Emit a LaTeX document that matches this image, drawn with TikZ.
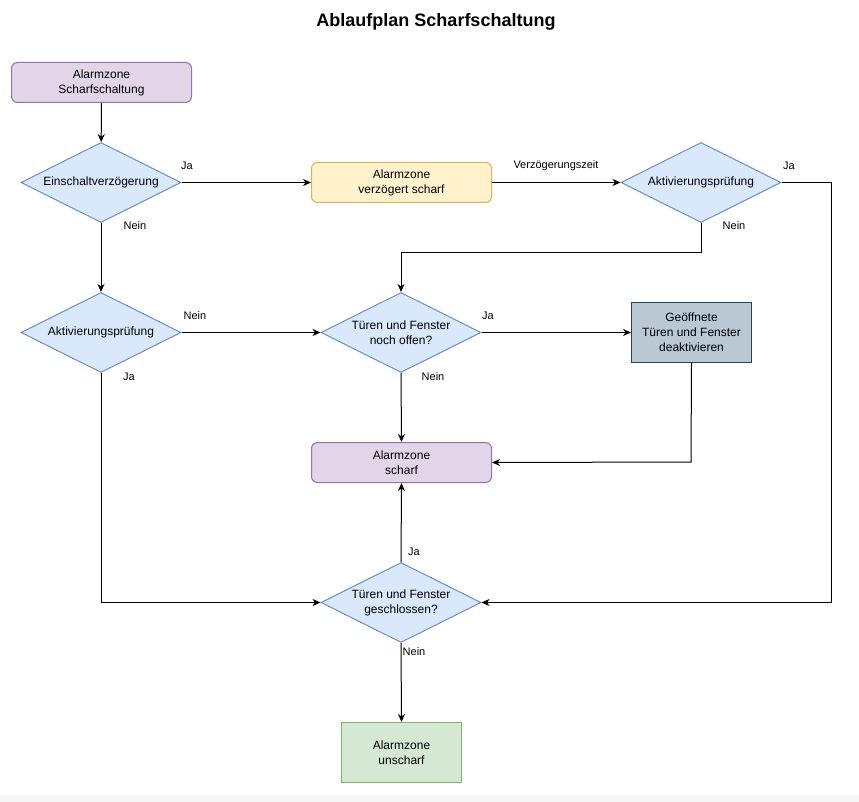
\documentclass[tikz,border=0pt]{standalone}
\usepackage{fontspec}
\setmainfont{Liberation Sans}
\usetikzlibrary{shapes.geometric,arrows.meta}
\definecolor{purpfill}{HTML}{E1D5E7}
\definecolor{purpline}{HTML}{9673A6}
\definecolor{bluefill}{HTML}{DAE8FC}
\definecolor{blueline}{HTML}{6C8EBF}
\definecolor{yelfill}{HTML}{FFF2CC}
\definecolor{yelline}{HTML}{D6B656}
\definecolor{grayfill}{HTML}{BAC8D3}
\definecolor{grayline}{HTML}{23445D}
\definecolor{greenfill}{HTML}{D5E8D4}
\definecolor{greenline}{HTML}{82B366}
\definecolor{stripgray}{HTML}{F6F6F6}
\begin{document}
\begin{tikzpicture}[x=1pt,y=-1pt,
  txt/.style={font=\fontsize{12}{15}\selectfont, align=center, text=black},
  boxbase/.style={txt, draw, line width=1pt, inner sep=0pt, anchor=north west},
  purpbox/.style={boxbase, fill=purpfill, draw=purpline, rounded corners=6pt, minimum width=180pt, minimum height=40pt},
  yelbox/.style={boxbase, fill=yelfill, draw=yelline, rounded corners=6pt, minimum width=180pt, minimum height=40pt},
  dec/.style={txt, diamond, aspect=2, fill=bluefill, draw=blueline, line width=1pt, inner sep=0pt, minimum width=160pt, minimum height=80pt},
  graybox/.style={boxbase, fill=grayfill, draw=grayline, minimum width=120pt, minimum height=60pt},
  greenbox/.style={boxbase, fill=greenfill, draw=greenline, minimum width=120pt, minimum height=60pt},
  arr/.style={draw=black, line width=1pt, -{Stealth[length=8pt,width=7pt,inset=2.5pt]}},
  lbl/.style={font=\fontsize{11}{13}\selectfont, text=black, inner sep=0pt}
]
\useasboundingbox (0,0) rectangle (859,802);
\fill[white] (0,0) rectangle (859,802);
\fill[stripgray] (0,795) rectangle (859,802);

\node[font=\bfseries\fontsize{18}{22}\selectfont] (title) at (436,22) {Ablaufplan Scharfschaltung};

\node[purpbox] (start) at (11,62) {Alarmzone\\Scharfschaltung};
\node[dec] (d1) at (101,182.5) {Einschaltverzögerung};
\node[yelbox] (verz) at (311,162) {Alarmzone\\verzögert scharf};
\node[dec] (d2) at (701,182.5) {Aktivierungsprüfung};
\node[dec] (d3) at (101,332.5) {Aktivierungsprüfung};
\node[dec] (d4) at (401,332.5) {Türen und Fenster\\noch offen?};
\node[graybox] (deakt) at (631,302) {Geöffnete\\Türen und Fenster\\deaktivieren};
\node[purpbox] (scharf) at (311,442) {Alarmzone\\scharf};
\node[dec] (d5) at (401,602.5) {Türen und Fenster\\geschlossen?};
\node[greenbox] (unscharf) at (341,722) {Alarmzone\\unscharf};

\coordinate (c2a) at (701,253);
\coordinate (c2b) at (401,253);
\coordinate (c2c) at (831,182.5);
\coordinate (c2d) at (831,602.5);
\coordinate (c3a) at (101,602.5);
\coordinate (c4a) at (691,462);

\draw[arr] (start) -- (d1);
\draw[arr] (d1.east) -- (verz.west);
\draw[arr] (d1.south) -- (d3.north);
\draw[arr] (verz.east) -- (d2.west);
\draw[arr] (d2.south) -- (c2a) -- (c2b) -- (d4.north);
\draw[arr] (d2.east) -- (c2c) -- (c2d) -- (d5.east);
\draw[arr] (d3.east) -- (d4.west);
\draw[arr] (d3.south) -- (c3a) -- (d5.west);
\draw[arr] (d4.east) -- (deakt.west);
\draw[arr] (d4.south) -- (scharf.north);
\draw[arr] (deakt.south) -- (c4a) -- (scharf.east);
\draw[arr] (d5.north) -- (scharf.south);
\draw[arr] (d5.south) -- (unscharf.north);

\node[lbl] (l1) at (187,166) {Ja};
\node[lbl] (l2) at (135,226) {Nein};
\node[lbl] (l3) at (556,166) {Verzögerungszeit};
\node[lbl] (l4) at (789,166) {Ja};
\node[lbl] (l5) at (734,226) {Nein};
\node[lbl] (l6) at (195,316) {Nein};
\node[lbl] (l7) at (129,377) {Ja};
\node[lbl] (l8) at (488,316) {Ja};
\node[lbl] (l9) at (433,377) {Nein};
\node[lbl] (l10) at (414,552) {Ja};
\node[lbl] (l11) at (414,652) {Nein};
\end{tikzpicture}
\end{document}
